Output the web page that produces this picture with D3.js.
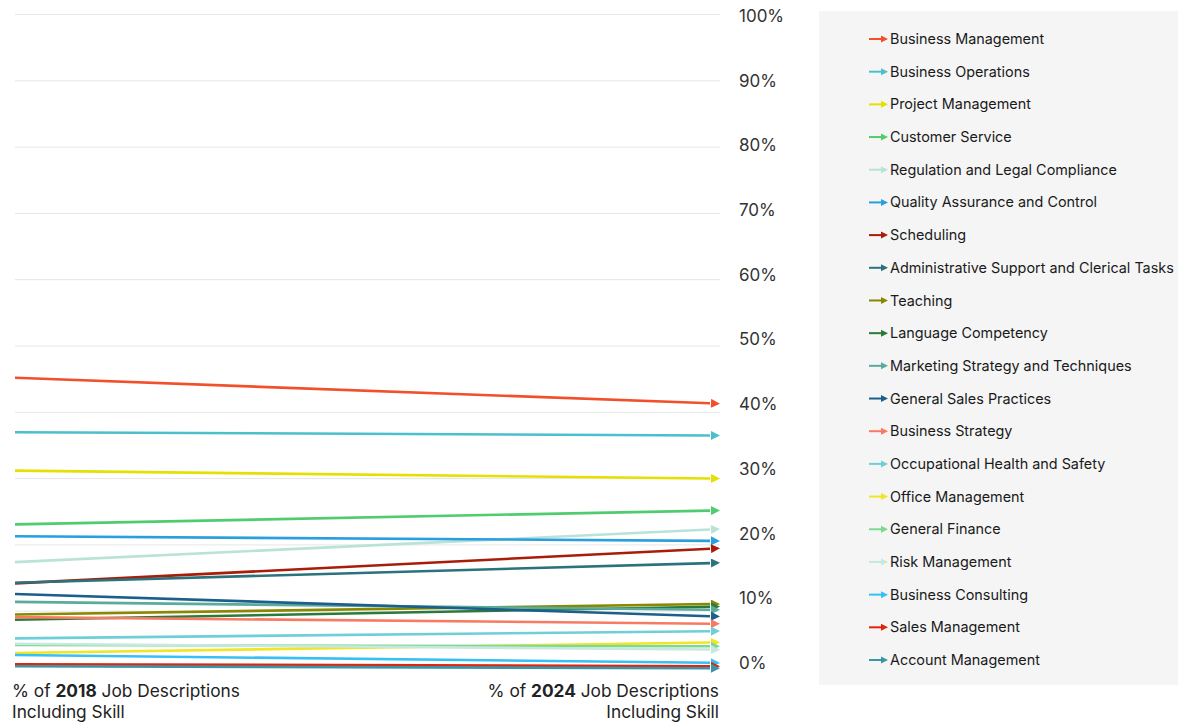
<!DOCTYPE html>
<html><head><meta charset="utf-8">
<script src="https://cdn.jsdelivr.net/npm/d3@7"></script>
<style>
body{margin:0;background:#fff;font-family:Inter,"Noto Sans",sans-serif;}
svg{display:block}
</style></head>
<body>
<svg id="chart" width="1178" height="725"></svg>
<script>
const categories = ["Business Management","Business Operations","Project Management","Customer Service","Regulation and Legal Compliance","Quality Assurance and Control","Scheduling","Administrative Support and Clerical Tasks","Teaching","Language Competency","Marketing Strategy and Techniques","General Sales Practices","Business Strategy","Occupational Health and Safety","Office Management","General Finance","Risk Management","Business Consulting","Sales Management","Account Management"];
const values2018 = [45.2,37.0,31.2,23.1,17.4,21.3,14.2,14.3,9.5,8.7,11.4,12.6,9.1,5.9,3.7,4.9,5.1,3.4,2.0,1.7];
const values2024 = [41.3,36.5,30.0,25.2,22.4,20.6,19.5,17.3,11.1,10.7,10.2,9.2,8.1,7.0,5.3,4.7,4.2,2.2,1.7,1.4];
const palette = ["#f24f2b","#4cbfcd","#e6e000","#50cc6e","#b9e2d9","#2a9fe0","#a81c08","#2b727c","#8a8800","#2a7a3c","#5aab9b","#1b5f8a","#f77b63","#6ecfd9","#f0e628","#7dd991","#c6e8df","#37c0f5","#e3230a","#3b95a7"];
const tickValues = [0,10,20,30,40,50,60,70,80,90,100];
const gridValues = [10,20,30,40,50,60,70,80,90,100];
const axisTitles = [["% of ","2018"," Job Descriptions","Including Skill"],["% of ","2024"," Job Descriptions","Including Skill"]];

const svg = d3.select("#chart");
const x = d3.scaleLinear().domain([0,1]).range([15,720]);
const y = d3.scaleLinear().domain([0,100]).range([677.5,14.5]);
const yLabel = d3.scaleLinear().domain([0,100]).range([663,16]);

// gridlines
svg.append("g").selectAll("line").data(gridValues).join("line")
  .attr("x1",x(0)).attr("x2",x(1))
  .attr("y1",d=>y(d)).attr("y2",d=>y(d))
  .attr("stroke","#e6e6e6").attr("stroke-width",1);

// tick labels
svg.append("g").selectAll("text").data(tickValues).join("text")
  .attr("x",739).attr("y",d=>yLabel(d)).attr("dy","0.35em")
  .attr("font-size",17).attr("fill","#333")
  .text(d=>d+"%");

// arrow markers
const defs = svg.append("defs");
palette.forEach((c,i)=>{
  defs.append("marker").attr("id","ah"+i)
    .attr("viewBox","0 0 10 10").attr("refX",10).attr("refY",5)
    .attr("markerUnits","userSpaceOnUse")
    .attr("markerWidth",11).attr("markerHeight",9).attr("orient","auto")
    .append("path").attr("d","M0,0L10,5L0,10Z").attr("fill",c);
});

const rows = categories.map((c,i)=>({name:c,a:values2018[i],b:values2024[i],i}));
const lines = svg.append("g");
rows.forEach(r=>{
  const y0 = y(r.a), y1 = y(r.b);
  const x0 = x(0), x1 = x(1);
  const len = Math.hypot(x1-x0,y1-y0);
  const t = (len-10)/len;
  lines.append("line")
    .attr("x1",x0).attr("y1",y0)
    .attr("x2",x0+(x1-x0)*t).attr("y2",y0+(y1-y0)*t)
    .attr("stroke",palette[r.i]).attr("stroke-width",2.6);
  lines.append("path")
    .attr("d",`M${x0+(x1-x0)*t},${y0+(y1-y0)*t}L${x1},${y1}`)
    .attr("stroke","none").attr("fill","none")
    .attr("marker-end",`url(#ah${r.i})`);
});

// axis titles
axisTitles.forEach((t,k)=>{
  const g = svg.append("g");
  const anchor = k===0?"start":"end";
  const xx = k===0?12:719;
  const t1 = g.append("text").attr("x",xx).attr("y",697).attr("text-anchor",anchor)
    .attr("font-size",17.3).attr("fill","#222");
  t1.append("tspan").text(t[0]);
  t1.append("tspan").attr("font-weight","bold").text(t[1]);
  t1.append("tspan").text(t[2]);
  g.append("text").attr("x",xx).attr("y",718).attr("text-anchor",anchor)
    .attr("font-size",17.3).attr("fill","#222").text(t[3]);
});

// legend
svg.append("rect").attr("x",819).attr("y",11).attr("width",359).attr("height",674).attr("fill","#f5f5f5");
const ly = d3.scalePoint().domain(categories).range([39,660]);
const leg = svg.append("g").selectAll("g").data(rows).join("g")
  .attr("transform",d=>`translate(0,${ly(d.name)})`);
leg.append("line").attr("x1",869).attr("x2",882).attr("y1",0).attr("y2",0)
  .attr("stroke",d=>palette[d.i]).attr("stroke-width",2);
leg.append("path").attr("d","M881,-3.5L888,0L881,3.5Z").attr("fill",d=>palette[d.i]);
leg.append("text").attr("x",890).attr("y",0).attr("dy","0.35em")
  .attr("font-size",14.4).attr("fill","#1a1a1a").text(d=>d.name);
</script>
</body></html>
